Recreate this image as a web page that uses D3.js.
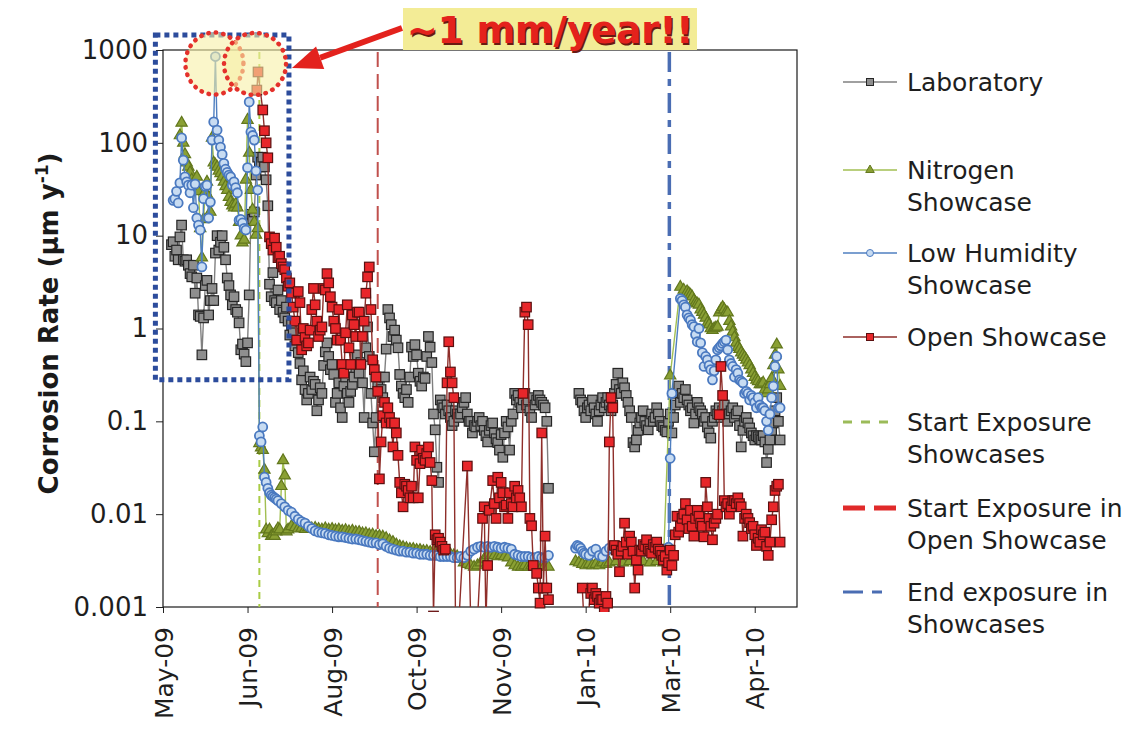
<!DOCTYPE html>
<html>
<head>
<meta charset="utf-8">
<script src="https://cdn.jsdelivr.net/npm/d3@7"></script>
<style>
  html, body { margin: 0; padding: 0; background: #ffffff; }
  svg { display: block; font-family: "DejaVu Sans", Verdana, sans-serif; }
</style>
</head>
<body>
<svg id="chart" width="1131" height="740"></svg>
<script>
// ---- Time base: days counted from the first tick date ----
const startDate = new Date(2009, 4, 8);
const spanDays = 375;
const tickDays = [0, 50, 100, 150, 200, 250, 300, 350];
const yTicks = [0.001, 0.01, 0.1, 1, 10, 100, 1000];

// Exposure events (days from start)
const startShowcaseDay = 57;
const startOpenDay = 127;
const endShowcaseDay = 299.5;

// ---- Corrosion rate series: [day, rate in µm/y]; null marks a break in the record ----
const labData = [
  [5,8.0],[6,8.6],[7,6.0],[8,7.0],[9,5.5],[10,9.7],[11,13],[12,5.5],[13,5.3],[14,5.5],[15,4.8],[16,3.9],[17,3.6],[18,4.8],[19,2.4],[20,3.5],
  [21,1.4],[22,1.35],[23,0.52],[24,1.3],[25,2.9],[26,3.3],[27,1.4],[28,2.0],[29,2.7],[30,2.0],[31,6.5],[32,10],[33,7.0],[34,8.5],[35,10],
  [36,7.5],[37,5.5],[38,3.5],[39,2.9],[40,2.3],[41,1.8],[42,2.2],[43,1.6],[44,1.5],[45,1.15],[46,0.59],[47,0.68],[48,0.53],[49,0.44],[50,0.7],
  [51,2.3],[52,17],[53,15],[54,18],[55,45],[56,70],[57,55],[58,62],[59,70],[60,55],[61,40],[62,21],[63,3.0],[64,2.2],[65,4.0],[66,2.0],
  [67,1.9],[68,2.6],[69,1.6],[70,2.0],[71,1.5],[72,1.3],[73,1.7],[74,1.2],[75,0.85],[76,1.1],[77,0.9],[78,0.65],[79,0.75],[80,0.55],
  [81,0.42],[82,0.28],[83,0.35],[84,0.22],[85,0.17],[86,0.2],[87,0.3],[88,0.22],[89,0.27],[90,0.25],[91,0.13],[92,0.17],[93,0.23],[94,0.2],
  [95,0.4],[96,0.56],[97,0.7],[98,0.5],[99,0.36],[100,0.41],[101,0.32],[102,0.16],[103,0.2],[104,0.26],[105,0.14],[106,0.11],[107,0.24],
  [108,0.3],[109,0.2],[110,0.16],[111,0.21],[112,0.25],[113,0.3],[114,0.38],[115,0.52],[116,0.33],[117,0.43],[118,0.26],[119,0.11],[120,0.62],
  [121,1.04],[122,0.5],[123,0.2],[124,0.096],[125,0.047],[126,0.11],[127,0.25],[128,0.3],[129,0.22],[130,0.18],[131,0.3],[132,0.6],[133,1.6],
  [134,1.3],[135,1.1],[136,0.82],[137,0.96],[138,0.75],[139,0.62],[140,0.32],[141,0.24],[142,0.2],[143,0.18],[144,0.22],[145,0.16],[146,0.3],
  [147,0.63],[148,0.5],[149,0.67],[150,0.52],[151,0.33],[152,0.27],[153,0.24],[154,0.3],[155,0.29],[156,0.5],[157,0.82],[158,0.63],[159,0.43],
  [160,0.12],[161,0.081],[162,0.032],[163,0.022],[164,0.17],[165,0.15],[166,0.14],[167,0.12],[168,0.15],[169,0.13],[170,0.11],[171,0.09],
  [172,0.1],[173,0.13],[174,0.12],[175,0.11],[176,0.12],[177,0.14],[178,0.16],[179,0.18],[180,0.12],[181,0.1],[182,0.1],[183,0.075],[184,0.09],
  [185,0.087],[186,0.1],[187,0.11],[188,0.09],[189,0.1],[190,0.08],[191,0.07],[192,0.06],[193,0.08],[194,0.09],[195,0.096],[196,0.075],
  [197,0.065],[198,0.059],[199,0.049],[200,0.072],[201,0.041],[202,0.075],[203,0.1],[204,0.087],[205,0.049],[206,0.1],[207,0.12],[208,0.2],
  [209,0.17],[210,0.19],[211,0.16],[212,0.14],[213,0.17],[214,0.2],[215,0.15],[216,0.17],[217,0.13],[218,0.11],[219,0.18],[220,0.15],
  [221,0.17],[222,0.19],[223,0.17],[224,0.16],[225,0.15],[226,0.14],[227,0.1],[228,0.019],
  [236,null],
  [246,0.2],[247,0.17],[248,0.16],[249,0.13],[250,0.11],[251,0.14],[252,0.15],[253,0.13],[254,0.17],[255,0.14],[256,0.12],[257,0.1],
  [258,0.13],[259,0.15],[260,0.18],[261,0.14],[262,0.16],[263,0.18],[264,0.15],[265,0.13],[266,0.15],[267,0.2],[268,0.25],[269,0.33],
  [270,0.22],[271,0.2],[272,0.26],[273,0.23],[274,0.19],[275,0.16],[276,0.13],[277,0.11],[278,0.059],[279,0.053],[280,0.063],[281,0.08],
  [282,0.096],[283,0.11],[284,0.13],[285,0.1],[286,0.09],[287,0.081],[288,0.1],[289,0.12],[290,0.1],[291,0.11],[292,0.14],[293,0.12],
  [294,0.1],[295,0.09],[296,0.087],[297,0.08],[298,0.077],[299,0.1],[300,0.12],[301,0.075],[302,0.11],[303,0.15],[304,0.2],[305,0.24],
  [306,0.16],[307,0.2],[308,0.18],[309,0.22],[310,0.17],[311,0.15],[312,0.13],[313,0.14],[314,0.096],[315,0.12],[316,0.16],[317,0.14],
  [318,0.13],[319,0.12],[320,0.1],[321,0.11],[322,0.087],[323,0.075],[324,0.066],[325,0.1],[326,0.11],[327,0.13],[328,0.12],[329,0.14],
  [330,0.11],[331,0.13],[332,0.15],[333,0.12],[334,0.1],[335,0.12],[336,0.13],[337,0.14],[338,0.11],[339,0.12],[340,0.13],[341,0.09],
  [342,0.053],[343,0.08],[344,0.1],[345,0.11],[346,0.096],[347,0.085],[348,0.075],[349,0.07],[350,0.063],[351,0.07],[352,0.068],[353,0.065],
  [354,0.063],[355,0.07],[356,0.06],[357,0.036],[358,0.05],[359,0.063],[360,0.08],[361,0.096],[362,0.13],[363,0.18],[364,0.1],[365,0.063]
];

const nitrogenData = [
  [10,120],[11,164],[12,100],[13,75],[14,61],[15,55],[16,48],[17,40],[18,36],[19,38],[20,43],[21,30],[22,12],[23,5.8],[24,15],[25,30],
  [26,38],[27,26],[28,18],[29,113],[30,61],[31,58],[32,55],[33,50],[34,47],[35,43],[36,38],[37,34],[38,31],[39,26],[40,23],[41,21],[42,20],
  [43,22],[44,20],[45,14],[46,10],[47,8.4],[48,9.0],[49,40],[50,176],[51,78],[52,31],[53,19],[54,14],[55,10.2],[56,12],
  [57,0.058],[58,0.052],[59,0.049],[60,0.03],[61,0.0068],[62,0.0062],[63,0.0068],[64,0.0058],[65,0.006],[66,0.0058],[67,0.0065],[68,0.007],
  [69,0.0068],[70,0.02],[71,0.038],[72,0.026],[73,0.0065],[74,0.0068],[76,0.0074],[78,0.0072],[80,0.007],[82,0.0071],[84,0.0069],[86,0.0072],
  [88,0.007],[90,0.0071],[92,0.0069],[94,0.0068],[96,0.007],[98,0.0068],[100,0.0069],[102,0.0067],[104,0.0068],[106,0.0066],[108,0.0067],
  [110,0.0065],[112,0.0066],[114,0.0064],[116,0.0064],[118,0.0062],[120,0.0062],[122,0.006],[124,0.006],[126,0.0058],[128,0.0058],[130,0.0057],
  [132,0.0055],[134,0.0052],[136,0.005],[138,0.0047],[140,0.0045],[142,0.0044],[144,0.0043],[146,0.0042],[148,0.0042],[150,0.0041],[152,0.0041],
  [154,0.004],[156,0.004],[158,0.0039],[160,0.004],[162,0.0041],[164,0.0042],[166,0.004],[168,0.0039],[170,0.0037],[172,0.0036],[174,0.0035],
  [176,0.0033],[178,0.003],[180,0.0029],[182,0.0028],[184,0.0027],[186,0.0028],[188,0.003],[190,0.0033],[192,0.0036],[194,0.0036],[196,0.0036],
  [198,0.0035],[200,0.0036],[202,0.0035],[204,0.0034],[206,0.003],[208,0.0028],[210,0.0027],[212,0.0027],[214,0.0028],[216,0.0027],[218,0.0028],
  [220,0.0027],[222,0.0028],[224,0.0027],[226,0.0028],[228,0.0027],
  [236,null],
  [244,0.0031],[246,0.003],[248,0.0029],[250,0.0028],[252,0.0029],[254,0.0028],[256,0.0029],[258,0.0028],[260,0.003],[262,0.0029],[264,0.003],
  [268,0.0031],[272,0.003],[276,0.0031],[280,0.003],[284,0.0031],[288,0.003],[292,0.0031],[296,0.003],
  [300,0.31],[306,2.8],[308,2.6],[310,2.5],[311,2.4],[312,2.3],[313,2.2],[314,2.0],[315,1.9],[316,1.85],[317,1.8],[318,1.6],[319,1.5],[320,1.4],
  [321,1.3],[322,1.15],[323,1.1],[324,1.0],[325,0.96],[326,1.0],[327,1.02],[328,1.04],[329,1.48],[330,1.6],[331,1.7],[332,1.6],[333,1.5],
  [334,1.48],[335,1.2],[336,1.05],[337,0.92],[338,0.8],[339,0.7],[340,0.63],[341,0.6],[342,0.55],[343,0.52],[344,0.49],[345,0.46],[346,0.43],
  [347,0.4],[348,0.36],[349,0.33],[350,0.3],[351,0.28],[352,0.27],[353,0.25],[354,0.25],[355,0.26],[356,0.22],[357,0.2],[358,0.22],[359,0.25],
  [360,0.29],[361,0.4],[362,0.52],[363,0.67],[364,0.36],[365,0.24]
];

const lowHumidityData = [
  [6,24],[7,25],[8,30],[9,22.5],[10,37],[11,113],[12,65],[13,43],[14,38],[15,35],[16,29],[17,35],[18,20],[19,36],[20,15.5],[21,13],[22,11.5],
  [23,4.6],[24,25],[25,34],[26,35],[27,15.5],[28,23],[29,107],[30,168],[31,850],[32,137],[33,107],[34,90],[35,75],[36,60],[37,52],[38,48],
  [39,45],[40,43],[41,35],[42,38],[43,33],[44,29],[45,14.7],[46,15],[47,13.7],[48,12],[49,11.5],[50,54],[51,276],[52,131],[53,120],[54,107],
  [55,50],[56,31],[57,0.07],[58,0.06],[59,0.087],[60,0.025],[61,0.022],[62,0.019],[63,0.017],[64,0.016],[65,0.0155],[66,0.015],[67,0.0145],
  [68,0.014],[70,0.013],[72,0.012],[74,0.011],[76,0.0105],[78,0.0095],[80,0.0088],[82,0.0083],[84,0.008],[86,0.0074],[88,0.007],[90,0.0066],
  [92,0.0064],[94,0.0063],[96,0.0062],[98,0.006],[100,0.0059],[102,0.0058],[104,0.0057],[106,0.0057],[108,0.0056],[110,0.0055],[112,0.0054],
  [114,0.0054],[116,0.0053],[118,0.0052],[120,0.0051],[122,0.005],[124,0.0049],[126,0.0049],[128,0.0047],[130,0.0048],[132,0.0045],[134,0.0043],
  [136,0.0042],[138,0.0041],[140,0.004],[142,0.004],[144,0.0039],[146,0.0039],[148,0.0038],[150,0.0038],[152,0.0037],[154,0.0037],[156,0.0037],
  [158,0.0036],[160,0.0036],[162,0.0036],[164,0.0035],[166,0.0035],[168,0.0035],[170,0.0035],[172,0.0034],[174,0.0034],[176,0.0035],[178,0.0034],
  [180,0.0036],[182,0.004],[184,0.0042],[186,0.0044],[188,0.0045],[190,0.0044],[192,0.0045],[194,0.0044],[196,0.0045],[198,0.0044],[200,0.0043],
  [202,0.0044],[204,0.0043],[206,0.0042],[208,0.0037],[210,0.0036],[212,0.0035],[214,0.0035],[216,0.0035],[218,0.0034],[220,0.0034],[222,0.0035],
  [224,0.0034],[226,0.0034],[228,0.0036],
  [236,null],
  [244,0.0043],[245,0.0046],[246,0.0045],[247,0.0043],[248,0.004],[249,0.0038],[250,0.0037],[252,0.0036],[254,0.004],[256,0.0042],[258,0.0036],
  [260,0.0035],[262,0.004],[264,0.0043],[266,0.0042],[268,0.0042],[272,0.0041],[276,0.0042],[280,0.0041],[284,0.004],[288,0.0041],[292,0.004],
  [296,0.0042],[299,0.0044],[300,0.04],[301,0.2],[306,2.1],[307,2.0],[308,1.8],[309,1.7],[310,1.4],[311,1.3],[312,1.23],[313,1.1],[314,1.05],
  [315,0.86],[316,0.72],[317,1.0],[318,0.7],[319,0.55],[320,0.39],[321,0.5],[322,0.46],[323,0.4],[324,0.36],[325,0.28],[326,0.35],[327,0.46],
  [328,0.59],[329,0.62],[330,0.65],[331,0.69],[332,0.72],[333,0.75],[334,0.59],[335,0.46],[336,0.42],[337,0.39],[338,0.3],[339,0.36],[340,0.33],
  [341,0.28],[342,0.27],[343,0.26],[344,0.2],[345,0.21],[346,0.2],[347,0.17],[348,0.19],[349,0.18],[350,0.16],[351,0.14],[352,0.18],[353,0.15],
  [354,0.14],[355,0.14],[356,0.13],[357,0.1],[358,0.08],[359,0.12],[360,0.18],[361,0.24],[362,0.39],[363,0.5],[364,0.14],[365,0.14]
];

const openData = [
  [55.5,370],[56.2,580],[59,226],[60,135],[61,100],[62,69],[63,9.7],[64,8.2],[65,7.0],[66,9.4],[67,7.5],[68,5.8],[69,6.0],[70,5.0],[71,4.6],
  [72,4.3],[73,3.5],[74,2.85],[75,3.1],[76,2.4],[77,1.7],[78,1.2],[79,0.75],[80,2.5],[81,1.9],[82,0.59],[83,1.0],[84,0.8],[85,0.65],[86,0.7],
  [87,0.96],[88,1.6],[89,2.7],[90,1.8],[91,1.2],[92,0.82],[93,0.96],[94,1.04],[95,2.7],[96,2.6],[97,3.9],[98,3.1],[99,2.2],[100,1.7],[101,1.2],
  [102,1.0],[103,0.75],[104,1.6],[105,0.75],[106,0.41],[107,0.33],[108,0.9],[109,1.8],[110,0.62],[111,0.41],[112,1.4],[113,1.1],[114,0.82],
  [115,1.5],[116,1.5],[117,0.41],[118,0.82],[119,1.2],[120,2.4],[121,3.6],[122,4.6],[123,1.6],[124,0.46],[125,0.36],[126,0.3],[127,0.21],
  [128,0.024],[129,0.06],[130,0.115],[131,0.16],[132,0.096],[133,0.14],[134,0.11],[135,0.096],[136,0.053],[137,0.096],[138,0.075],[139,0.043],
  [140,0.022],[141,0.017],[142,0.012],[143,0.021],[144,0.02],[145,0.018],[146,0.015],[147,0.02],[148,0.015],[149,0.053],[150,0.038],[151,0.015],
  [152,0.035],[153,0.049],[154,0.04],[155,0.038],[156,0.045],[157,0.053],[158,0.036],[159,0.023],[160,0.0008],[161,0.006],[162,0.0053],
  [163,0.0055],[164,0.005],[165,0.0045],[166,0.0041],[167,0.0042],[168,0.26],[169,0.72],[170,0.34],[171,0.26],[172,0.18],[173,0.0007],
  [175,0.0007],[180,0.033],[182,0.0007],[186,0.0007],[189,0.009],[190,0.012],[191,0.0007],[192,0.0028],[193,0.011],[195,0.023],[196,0.013],
  [197,0.009],[198,0.025],[199,0.015],[200,0.022],[201,0.017],[202,0.012],[203,0.0125],[204,0.009],[205,0.017],[206,0.013],[207,0.012],
  [208,0.02],[209,0.015],[210,0.018],[211,0.015],[212,0.012],[213,0.2],[214,1.5],[215,1.7],[216,1.1],[217,0.009],[218,0.0075],[219,0.0028],
  [221,0.0023],[222,0.0016],[223,0.0011],[224,0.075],[225,0.0016],[226,0.0058],[227,0.0016],[228,0.0012],
  [238,null],
  [248,0.0016],[249,0.0007],[251,0.0007],[253,0.0014],[254,0.0016],[255,0.0012],[256,0.0014],[257,0.0013],[258,0.0011],[259,0.0012],
  [260,0.0012],[261,0.0009],[262,0.0013],[263,0.0011],[264,0.06],[265,0.18],[266,0.14],[267,0.0046],[268,0.0041],[269,0.0037],[270,0.0024],
  [271,0.004],[272,0.0045],[273,0.008],[274,0.005],[275,0.0037],[276,0.0058],[277,0.005],[278,0.004],[279,0.0016],[280,0.0032],[281,0.0025],
  [282,0.0041],[283,0.004],[284,0.0047],[285,0.0045],[286,0.0053],[287,0.0042],[288,0.004],[289,0.0038],[290,0.0047],[291,0.0044],[292,0.005],
  [293,0.0042],[294,0.004],[295,0.0036],[296,0.0032],[297,0.0035],[298,0.0025],[299,0.003],[300,0.0041],[301,0.0028],[302,0.0036],[303,0.006],
  [304,0.0095],[305,0.0064],[306,0.0074],[307,0.009],[308,0.01],[309,0.013],[310,0.0087],[311,0.007],[312,0.011],[313,0.0074],[314,0.0058],
  [315,0.009],[316,0.011],[317,0.0095],[318,0.008],[319,0.0074],[320,0.0057],[321,0.022],[322,0.012],[323,0.009],[324,0.0074],[325,0.0053],
  [326,0.008],[327,0.009],[328,0.01],[329,0.118],[330,0.39],[331,0.19],[332,0.014],[333,0.012],[334,0.013],[335,0.01],[336,0.012],[337,0.014],
  [338,0.014],[339,0.013],[340,0.015],[341,0.013],[342,0.012],[343,0.0058],[344,0.009],[345,0.01],[346,0.009],[347,0.0081],[348,0.007],
  [349,0.0074],[350,0.006],[351,0.0046],[352,0.0055],[353,0.005],[354,0.0068],[355,0.006],[356,0.0064],[357,0.0045],[358,0.0036],[359,0.005],
  [360,0.0087],[361,0.012],[362,0.018],[363,0.02],[364,0.021],[365,0.005]
];

// ---- Text ----
const yTitle = "Corrosion Rate (µm y";
const yTitleSup = "-1";
const calloutText = "~1 mm/year!!";

// ---- Series styling ----
const series = [
  { key: "lab", label: ["Laboratory"], data: labData, line: "#808080", shape: "square", fill: "#8e8e8e", stroke: "#262626" },
  { key: "n2", label: ["Nitrogen", "Showcase"], data: nitrogenData, line: "#a2bf52", shape: "triangle", fill: "#8aa034", stroke: "#62771d" },
  { key: "lowrh", label: ["Low Humidity", "Showcase"], data: lowHumidityData, line: "#4f7fc0", shape: "circle", fill: "#c8dcf2", stroke: "#4a79c0" },
  { key: "open", label: ["Open Showcase"], data: openData, line: "#8e2e2a", shape: "square", fill: "#e8262a", stroke: "#5a1010" }
];

const eventLines = [
  { day: startShowcaseDay, label: ["Start Exposure", "Showcases"], color: "#a9cc45", width: 2, dash: "7,5",
    legendColor: "#9bbb59", legendWidth: 3, legendDash: "9,9" },
  { day: startOpenDay, label: ["Start Exposure in", "Open Showcase"], color: "#c0504d", width: 2, dash: "15,7",
    legendColor: "#e02a2a", legendWidth: 5, legendDash: "22,9" },
  { day: endShowcaseDay, label: ["End exposure in", "Showcases"], color: "#4a6db3", width: 3.5, dash: "20,7,7,7",
    legendColor: "#4a6db3", legendWidth: 3, legendDash: "20,9,10,20" }
];

// ---- Layout ----
const W = 1131, H = 740;
const X0 = 163, X1 = 797, Y0 = 50, Y1 = 607;

const dayToDate = d => new Date(startDate.getTime() + d * 86400000);

const x = d3.scaleTime().domain([startDate, dayToDate(spanDays)]).range([X0, X1]);
const y = d3.scaleLog().domain([0.001, 1000]).range([Y1, Y0]);

const svg = d3.select("#chart");
svg.append("rect").attr("width", W).attr("height", H).attr("fill", "#ffffff");

const defs = svg.append("defs");
defs.append("clipPath").attr("id", "clipLines")
  .append("rect").attr("x", X0).attr("y", 0).attr("width", X1 - X0).attr("height", Y1);
defs.append("clipPath").attr("id", "clipMarks")
  .append("rect").attr("x", X0 - 6).attr("y", 0).attr("width", X1 - X0 + 12).attr("height", Y1 + 5);

// ---- Axes ----
const xAxis = d3.axisBottom(x)
  .tickValues(tickDays.map(dayToDate))
  .tickFormat(d3.timeFormat("%b-%y"))
  .tickSize(6).tickSizeOuter(0);

const gx = svg.append("g").attr("transform", `translate(0,${Y1})`).call(xAxis);
gx.select(".domain").remove();
gx.selectAll(".tick line").attr("stroke", "#222");
gx.selectAll(".tick text")
  .attr("transform", "rotate(-90)")
  .attr("x", -20).attr("y", 0).attr("dy", "0.36em")
  .style("text-anchor", "end")
  .style("font-size", "25px")
  .style("font-family", "'DejaVu Sans', Verdana, sans-serif")
  .attr("fill", "#1e1e1e");

const yAxis = d3.axisLeft(y)
  .tickValues(yTicks)
  .tickFormat(d3.format("~g"))
  .tickSize(7).tickPadding(8).tickSizeOuter(0);

const gy = svg.append("g").attr("transform", `translate(${X0},0)`).call(yAxis);
gy.select(".domain").remove();
gy.selectAll(".tick line").attr("stroke", "#222");
gy.selectAll(".tick text")
  .style("font-size", "26px")
  .style("font-family", "'DejaVu Sans', Verdana, sans-serif")
  .attr("fill", "#1e1e1e");

// Plot frame
svg.append("rect")
  .attr("x", X0).attr("y", Y0).attr("width", X1 - X0).attr("height", Y1 - Y0)
  .attr("fill", "none").attr("stroke", "#1a1a1a").attr("stroke-width", 1.2);

// Y axis title
const yt = svg.append("text")
  .attr("transform", `translate(58,${(Y0 + Y1) / 2 - 5}) rotate(-90)`)
  .attr("text-anchor", "middle")
  .style("font-size", "26px").style("font-weight", "bold")
  .attr("fill", "#1a1a1a");
yt.append("tspan").text(yTitle);
yt.append("tspan").text(yTitleSup).attr("dy", -10).style("font-size", "17px");
yt.append("tspan").text(")").attr("dy", 10);

// ---- Exposure event lines ----
const gEvents = svg.append("g");
eventLines.forEach(e => {
  gEvents.append("line")
    .attr("x1", x(dayToDate(e.day))).attr("x2", x(dayToDate(e.day)))
    .attr("y1", Y0 + 2).attr("y2", Y1)
    .attr("stroke", e.color).attr("stroke-width", e.width)
    .attr("stroke-dasharray", e.dash);
});

// ---- Series ----
const markerFns = {
  square: (g, s, sz) => g.append("rect").attr("x", -sz / 2).attr("y", -sz / 2).attr("width", sz).attr("height", sz),
  circle: (g, s, sz) => g.append("circle").attr("r", sz / 2),
  triangle: (g, s, sz) => g.append("path").attr("d", d3.symbol(d3.symbolTriangle, sz * sz * 0.5)())
};
const markerSize = { square: 9.5, circle: 9, triangle: 10.5 };

const lineGen = d3.line()
  .defined(d => d[1] != null)
  .x(d => x(dayToDate(d[0])))
  .y(d => y(d[1]));

series.forEach(s => {
  const g = svg.append("g").attr("class", "series-" + s.key);
  g.append("path")
    .attr("clip-path", "url(#clipLines)")
    .attr("d", lineGen(s.data))
    .attr("fill", "none").attr("stroke", s.line).attr("stroke-width", 1.4);
  const pts = s.data.filter(d => d[1] != null);
  const mg = g.append("g").attr("clip-path", "url(#clipMarks)");
  mg.selectAll("g.pt").data(pts).join("g")
    .attr("class", "pt")
    .attr("transform", d => `translate(${x(dayToDate(d[0]))},${y(d[1])})`)
    .each(function () {
      markerFns[s.shape](d3.select(this), s, markerSize[s.shape])
        .attr("fill", s.fill).attr("stroke", s.stroke).attr("stroke-width", s.shape === "circle" ? 1.8 : 1.2);
    });
});

// ---- Highlight annotations ----
const ann = svg.append("g");

// dotted box around the early-exposure period
const boxL = x(dayToDate(-4.5)), boxR = x(dayToDate(74.5));
const boxT = 35, boxB = y(0.28);
ann.append("rect")
  .attr("x", boxL).attr("y", boxT).attr("width", boxR - boxL).attr("height", boxB - boxT)
  .attr("fill", "none").attr("stroke", "#2c4c9c").attr("stroke-width", 5)
  .attr("stroke-dasharray", "5,4");

// dotted circles marking the ~1 mm/y peaks
const peaks = [
  { day: 31, value: 850, dx: -1, dy: 7, rx: 29, ry: 31 },
  { day: 56.2, value: 580, dx: -3, dy: -8, rx: 31, ry: 31 }
];
peaks.forEach(p => {
  ann.append("ellipse")
    .attr("cx", x(dayToDate(p.day)) + p.dx).attr("cy", y(p.value) + p.dy)
    .attr("rx", p.rx).attr("ry", p.ry)
    .attr("fill", "#f6f0a6").attr("fill-opacity", 0.6)
    .attr("stroke", "#e4312b").attr("stroke-width", 4.5)
    .attr("stroke-dasharray", "0.5,7").attr("stroke-linecap", "round");
});

// callout label
const calloutX = 403, calloutY = 8, calloutW = 294, calloutH = 42;
ann.append("rect")
  .attr("x", calloutX).attr("y", calloutY).attr("width", calloutW).attr("height", calloutH)
  .attr("fill", "#f3ec96");
ann.append("text")
  .attr("x", calloutX + calloutW / 2 + 1.5).attr("y", calloutY + 36.5)
  .attr("text-anchor", "middle")
  .style("font-size", "37px").style("font-weight", "bold")
  .attr("fill", "#6a1a12").text(calloutText);
ann.append("text")
  .attr("x", calloutX + calloutW / 2).attr("y", calloutY + 35)
  .attr("text-anchor", "middle")
  .style("font-size", "37px").style("font-weight", "bold")
  .attr("fill", "#e4221c").text(calloutText);

// arrow from callout to the peaks
const ax0 = calloutX - 1, ay0 = 28, ax1 = boxR + 3, ay1 = 68;
const ang = Math.atan2(ay1 - ay0, ax1 - ax0);
const headLen = 30, headHalf = 12;
const bx = ax1 - headLen * Math.cos(ang), by = ay1 - headLen * Math.sin(ang);
ann.append("line")
  .attr("x1", ax0).attr("y1", ay0).attr("x2", bx).attr("y2", by)
  .attr("stroke", "#e3221d").attr("stroke-width", 6);
ann.append("path")
  .attr("d", `M${ax1},${ay1} L${bx + headHalf * Math.sin(ang)},${by - headHalf * Math.cos(ang)} L${bx - headHalf * Math.sin(ang)},${by + headHalf * Math.cos(ang)} Z`)
  .attr("fill", "#e3221d");

// ---- Legend ----
const legend = svg.append("g");
const lgX0 = 843, lgX1 = 897, lgText = 907, lineH = 32;
const legendRows = [
  { item: series[0], y: 82 },
  { item: series[1], y: 170 },
  { item: series[2], y: 253 },
  { item: series[3], y: 337 },
  { item: eventLines[0], y: 422, ev: true },
  { item: eventLines[1], y: 508, ev: true },
  { item: eventLines[2], y: 592, ev: true }
];
legendRows.forEach(r => {
  const it = r.item;
  if (r.ev) {
    legend.append("line")
      .attr("x1", lgX0).attr("x2", it === eventLines[0] ? lgX1 - 8 : lgX1).attr("y1", r.y).attr("y2", r.y)
      .attr("stroke", it.legendColor).attr("stroke-width", it.legendWidth)
      .attr("stroke-dasharray", it.legendDash);
  } else {
    legend.append("line")
      .attr("x1", lgX0).attr("x2", lgX1).attr("y1", r.y).attr("y2", r.y)
      .attr("stroke", it.line).attr("stroke-width", 1.3);
    const mg = legend.append("g").attr("transform", `translate(${(lgX0 + lgX1) / 2},${r.y})`);
    markerFns[it.shape](mg, it, it.shape === "triangle" ? 8 : 7)
      .attr("fill", it.fill).attr("stroke", it.stroke).attr("stroke-width", 1);
  }
  it.label.forEach((t, i) => {
    legend.append("text")
      .attr("x", lgText).attr("y", r.y + i * lineH)
      .attr("dy", "0.36em")
      .style("font-size", "25px")
      .attr("fill", "#1e1e1e")
      .text(t);
  });
});
</script>
</body>
</html>
